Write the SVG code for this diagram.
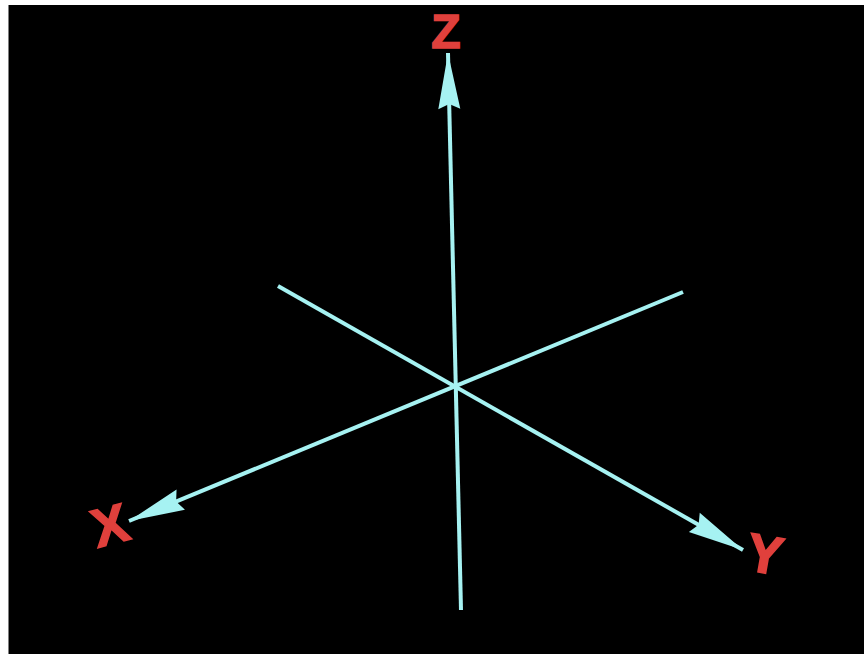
<svg xmlns="http://www.w3.org/2000/svg" width="864" height="654" viewBox="0 0 864 654">
  <style>
    .axis { stroke: #a6f2f2; stroke-width: 4; fill: none; stroke-linecap: butt; }
    .lbl { fill: #e0403c; stroke: #e0403c; stroke-width: 1.5; font-family: "Liberation Sans", Arial, sans-serif; font-weight: bold; text-anchor: middle; dominant-baseline: central; }
  </style>
  <defs>
    <marker id="arr" markerUnits="userSpaceOnUse" viewBox="-58 -12 60 24" refX="0" refY="0" markerWidth="60" markerHeight="24" orient="auto">
      <path d="M0,0 L-56,-11 L-51,0 L-56,11 Z" fill="#a6f2f2"/>
    </marker>
  </defs>
  <rect x="0" y="0" width="864" height="654" fill="#ffffff"/>
  <rect x="8.5" y="5" width="856" height="650" fill="#000000"/>
  <g id="connectors">
    <line id="z-axis" class="axis" x1="461" y1="610" x2="448" y2="53" marker-end="url(#arr)"/>
    <line id="x-axis" class="axis" x1="683" y1="292" x2="129" y2="521" marker-end="url(#arr)"/>
    <line id="y-axis" class="axis" x1="278" y1="286" x2="743" y2="550" marker-end="url(#arr)"/>
  </g>
  <g id="label-z"><text class="lbl" x="446" y="31" font-size="48">Z</text></g>
  <g id="label-x"><text class="lbl" x="110" y="525" font-size="54" transform="rotate(-15 110 525)">X</text></g>
  <g id="label-y"><text class="lbl" x="765" y="554" font-size="54" transform="rotate(10 765 554)">Y</text></g>
</svg>
